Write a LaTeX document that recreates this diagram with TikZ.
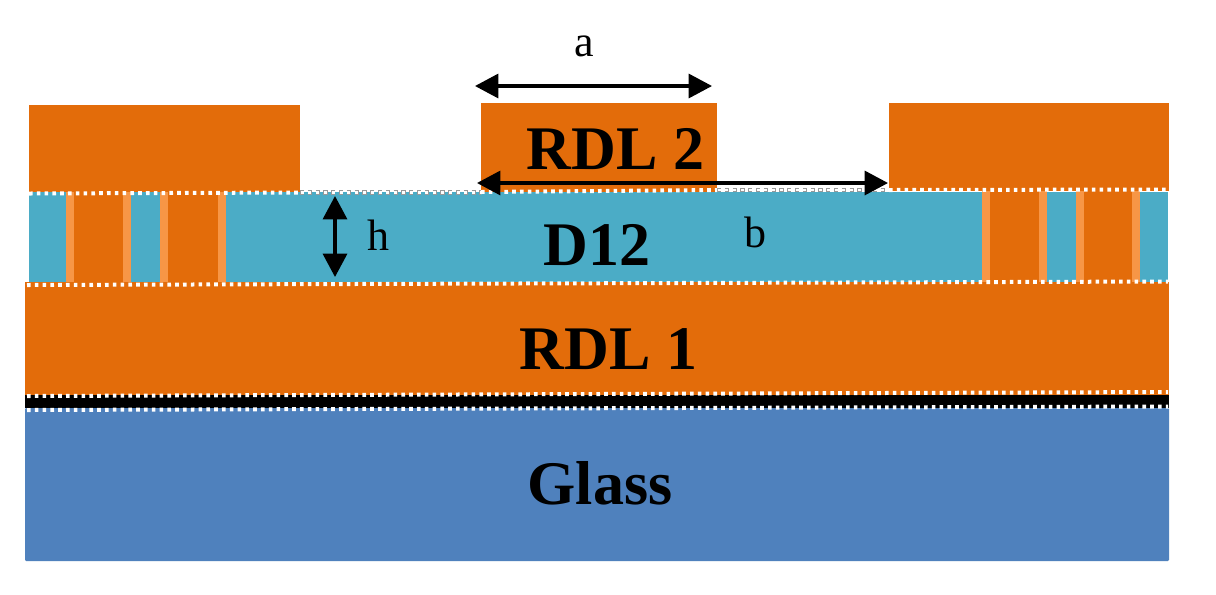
\documentclass[tikz,border=0pt]{standalone}
\usepackage{fontspec}
\setmainfont{Liberation Serif}
\usetikzlibrary{arrows.meta}
\definecolor{rdl}{HTML}{E36C0A}
\definecolor{diel}{HTML}{4BACC6}
\definecolor{via}{HTML}{F79646}
\definecolor{glassc}{HTML}{4F81BD}
\tikzset{
  x=0.75pt,y=-0.75pt,
  dotline/.style={draw=white,line width=3pt,dash pattern=on 2.7pt off 3.15pt},
  ghostline/.style={draw=black!40,line width=3.2pt,dash pattern=on 3.2pt off 2.65pt},
  ghostin/.style={draw=white,line width=2.2pt,dash pattern=on 2.2pt off 3.65pt,dash phase=-0.5pt},
  dimarrow/.style={draw=black,line width=2.4pt,{Triangle[length=17.5pt,width=18pt]}-{Triangle[length=17.5pt,width=18pt]}},
  bigtext/.style={font=\fontsize{46.5pt}{50pt}\selectfont\bfseries,inner sep=0pt,text=black},
  dimtext/.style={font=\fontsize{33pt}{36pt}\selectfont,inner sep=0pt,text=black}
}
\begin{document}
\begin{tikzpicture}
\useasboundingbox[fill=white] (0,0) rectangle (1216,594);
% layers
\fill[glassc,rounded corners=0.8pt] (25,408) rectangle (1169,561);
\fill[black] (25,395) rectangle (1169,408);
\fill[rdl] (25,282) rectangle (1169,395);
\fill[diel] (29,192) rectangle (1168,282);
% top metal
\fill[rdl] (29,105) rectangle (300,192);
\fill[rdl] (481,103) rectangle (717,192);
\fill[rdl] (889,103) rectangle (1169,191);
% vias, left
\fill[rdl] (66,192) rectangle (131,282);
\fill[rdl] (160,192) rectangle (226,282);
\foreach \x in {66,123,160,218} \fill[via] (\x,192) rectangle (\x+8,282);
% vias, right
\fill[rdl] (982,190) rectangle (1047,282);
\fill[rdl] (1076,190) rectangle (1140,282);
\foreach \x in {982,1039,1076,1132} \fill[via] (\x,191) rectangle (\x+8,282);
% dotted interfaces
\draw[ghostline] (300,192.5) -- (481,192.5);
\draw[ghostin] (300,192.5) -- (481,192.5);
\draw[ghostline] (717,190) -- (889,190);
\draw[ghostin] (717,190) -- (889,190);
\draw[dotline] (29,193.5) -- (300,192.5);
\draw[dotline] (481,192) -- (717,190);
\draw[dotline] (889,190) -- (1168,189.5);
\draw[dotline] (27,285) -- (1168,281.5);
\draw[dotline] (27,396) -- (1168,392);
\draw[dotline] (27,410) -- (1168,406.5);
% labels
\node[bigtext] (rdltwo) at (615.5,149) {RDL 2};
\node[bigtext] (dot) at (597,245) {D12};
\node[bigtext] (rdlone) at (608.5,349) {RDL 1};
\node[bigtext] (glasslbl) at (600,483) {Glass};
\node[dimtext] (alabel) at (584,46) {a};
\node[dimtext] (blabel) at (755,232) {b};
\node[dimtext] (hlabel) at (378,235) {h};
% dimension arrows
\coordinate (aL) at (475,86);
\coordinate (aR) at (712,86);
\coordinate (bL) at (477,183);
\coordinate (bR) at (888,183);
\coordinate (hT) at (335,196);
\coordinate (hB) at (335,277);
\draw[dimarrow] (aL) -- (aR);
\draw[dimarrow] (bL) -- (bR);
\draw[dimarrow] (hT) -- (hB);
\end{tikzpicture}
\end{document}
